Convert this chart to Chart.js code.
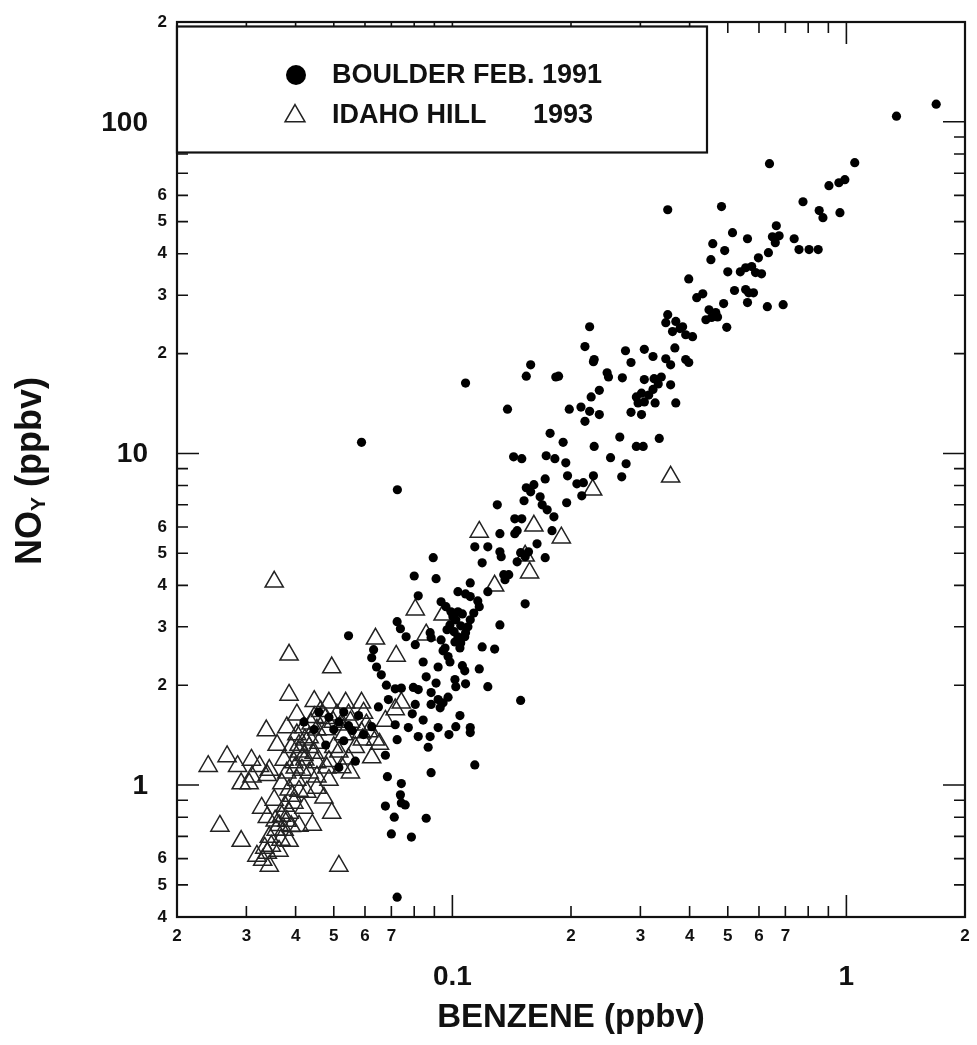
<!DOCTYPE html>
<html>
<head>
<meta charset="utf-8">
<script src="https://cdn.jsdelivr.net/npm/chart.js@4.4.1/dist/chart.umd.min.js"></script>
<style>
  html, body { margin: 0; padding: 0; background: #fff; }
</style>
</head>
<body>
<canvas id="grafica" width="977" height="1045"></canvas>
<script>
// Boulder, febrero 1991: benceno y NOy (ppbv)
var boulderX = [1.69, 1.34, 0.638, 1.05, 0.903, 0.957, 0.991, 0.482, 0.352, 0.776, 0.853, 0.872, 0.963, 0.664, 0.514, 0.561, 0.649, 0.675, 0.66, 0.737,
  0.458, 0.491, 0.453, 0.634, 0.598, 0.758, 0.804, 0.848, 0.398, 0.5, 0.538, 0.555, 0.575, 0.588, 0.609, 0.432, 0.417, 0.52, 0.555, 0.565,
  0.581, 0.561, 0.63, 0.691, 0.488, 0.448, 0.466, 0.455, 0.44, 0.471, 0.497, 0.352, 0.348, 0.369, 0.384, 0.362, 0.391, 0.407, 0.378, 0.223,
  0.367, 0.217, 0.229, 0.275, 0.284, 0.307, 0.323, 0.348, 0.358, 0.391, 0.398, 0.247, 0.249, 0.27, 0.186, 0.307, 0.325, 0.339, 0.333, 0.323,
  0.358, 0.293, 0.302, 0.315, 0.296, 0.307, 0.327, 0.369, 0.284, 0.302, 0.236, 0.225, 0.198, 0.212, 0.223, 0.236, 0.217, 0.266, 0.191, 0.229,
  0.293, 0.305, 0.335, 0.252, 0.276, 0.194, 0.196, 0.228, 0.269, 0.228, 0.158, 0.154, 0.183, 0.108, 0.138, 0.177, 0.143, 0.15, 0.173, 0.182,
  0.172, 0.154, 0.161, 0.158, 0.207, 0.215, 0.213, 0.13, 0.152, 0.167, 0.169, 0.174, 0.181, 0.195, 0.144, 0.15, 0.132, 0.144, 0.146, 0.179,
  0.114, 0.123, 0.132, 0.133, 0.164, 0.149, 0.153, 0.146, 0.156, 0.172, 0.119, 0.0894, 0.08, 0.0909, 0.135, 0.139, 0.136, 0.111, 0.0819, 0.1033,
  0.108, 0.111, 0.116, 0.117, 0.123, 0.0936, 0.0963, 0.153, 0.0992, 0.1033, 0.106, 0.102, 0.0986, 0.105, 0.101, 0.108, 0.0969, 0.111, 0.1033, 0.1075,
  0.1015, 0.105, 0.132, 0.0724, 0.0738, 0.0763, 0.0805, 0.0883, 0.0878, 0.119, 0.128, 0.0947, 0.0975, 0.0936, 0.0958, 0.092, 0.106, 0.1075, 0.117, 0.123,
  0.0858, 0.0909, 0.1015, 0.102, 0.108, 0.066, 0.068, 0.0716, 0.0742, 0.0796, 0.0805, 0.0883, 0.092, 0.0883, 0.0931, 0.0975, 0.0947, 0.149, 0.0716, 0.0773,
  0.0819, 0.0878, 0.092, 0.098, 0.111, 0.111, 0.0676, 0.114, 0.0684, 0.0742, 0.0883, 0.0738, 0.0742, 0.0759, 0.0676, 0.0712, 0.0858, 0.07, 0.0787, 0.0724,
  0.0545, 0.0631, 0.0624, 0.0642, 0.0477, 0.0515, 0.0567, 0.0624, 0.0458, 0.0486, 0.0515, 0.0545, 0.053, 0.0557, 0.05, 0.0446, 0.0595, 0.053, 0.0578, 0.042,
  0.0588, 0.0725, 0.1003, 0.1095, 0.1133, 0.1045, 0.0986, 0.0843, 0.0819, 0.0791, 0.0843, 0.1045, 0.102, 0.0868, 0.0724, 0.0649, 0.0688];
var boulderY = [113, 104, 74.8, 75.3, 64.2, 65.5, 66.9, 55.5, 54.3, 57.4, 54.0, 51.4, 53.2, 48.6, 46.3, 44.4, 45.0, 45.3, 43.2, 44.4,
  42.9, 40.9, 38.4, 40.3, 38.9, 41.2, 41.2, 41.2, 33.6, 35.3, 35.3, 36.3, 36.6, 35.1, 34.8, 30.3, 29.5, 31.0, 31.2, 30.5,
  30.5, 28.5, 27.7, 28.1, 28.3, 27.1, 26.6, 25.7, 25.3, 25.8, 24.0, 26.2, 24.8, 25.0, 24.1, 23.3, 22.8, 22.5, 23.8, 24.1,
  20.8, 21.0, 19.2, 20.4, 18.8, 20.6, 19.6, 19.3, 18.5, 19.2, 18.8, 17.5, 17.0, 16.9, 17.1, 16.7, 16.8, 17.0, 16.2, 15.6,
  16.1, 14.8, 15.2, 15.0, 14.2, 14.3, 14.2, 14.2, 13.3, 13.1, 15.5, 14.8, 13.6, 13.8, 13.4, 13.1, 12.5, 11.2, 10.8, 10.5,
  10.5, 10.5, 11.1, 9.71, 9.31, 9.37, 8.56, 8.56, 8.50, 18.9, 18.5, 17.1, 17.0, 16.3, 13.6, 11.5, 9.77, 9.64, 9.84, 9.64,
  8.38, 7.88, 8.05, 7.66, 8.10, 8.16, 7.45, 7.0, 7.2, 7.4, 7.0, 6.76, 6.44, 7.1, 6.35, 6.35, 5.73, 5.73, 5.85, 5.85,
  5.23, 5.23, 5.05, 4.88, 5.34, 5.02, 4.88, 4.71, 5.05, 4.85, 4.68, 4.85, 4.27, 4.19, 4.31, 4.31, 4.16, 4.07, 3.72, 3.83,
  3.77, 3.70, 3.59, 3.45, 3.83, 3.57, 3.45, 3.52, 3.33, 3.33, 3.28, 3.15, 3.04, 3.02, 2.90, 2.88, 2.94, 3.15, 2.80, 2.80,
  2.70, 2.68, 3.04, 3.11, 2.96, 2.80, 2.65, 2.78, 2.88, 2.61, 2.57, 2.54, 2.44, 2.74, 2.59, 2.27, 2.29, 2.21, 2.24, 1.98,
  2.12, 2.03, 2.08, 1.98, 2.02, 2.15, 2.0, 1.95, 1.96, 1.97, 1.75, 1.90, 1.81, 1.75, 1.71, 1.84, 1.77, 1.80, 1.52, 1.49,
  1.40, 1.40, 1.49, 1.42, 1.49, 1.44, 1.23, 1.15, 1.06, 1.01, 1.09, 0.934, 0.883, 0.871, 0.864, 0.80, 0.794, 0.712, 0.697, 0.459,
  2.82, 2.56, 2.42, 2.27, 1.32, 1.13, 1.18, 1.50, 1.66, 1.60, 1.55, 1.51, 1.66, 1.46, 1.47, 1.47, 1.42, 1.36, 1.62, 1.55,
  10.8, 7.77, 3.22, 3.00, 3.30, 2.59, 2.35, 2.35, 1.94, 1.64, 1.57, 1.62, 1.50, 1.30, 1.37, 1.72, 1.81];

// Idaho Hill 1993
var idahoX = [0.024, 0.0268, 0.0285, 0.0291, 0.0305, 0.0309, 0.0324, 0.0343, 0.0257, 0.0291, 0.0328, 0.0337, 0.0385, 0.0385, 0.0353, 0.0446, 0.0494, 0.0536, 0.0588, 0.0595,
  0.0638, 0.072, 0.0805, 0.0858, 0.0947, 0.0676, 0.0638, 0.0624, 0.0551, 0.0494, 0.0515, 0.0319, 0.033, 0.0343, 0.0441, 0.0486, 0.0524, 0.0588, 0.117, 0.128,
  0.161, 0.189, 0.153, 0.157, 0.227, 0.358, 0.0742, 0.0716, 0.0339, 0.0347, 0.0363, 0.0357, 0.0385, 0.0355, 0.0385, 0.0408, 0.0369, 0.0396, 0.0408, 0.0453,
  0.0369, 0.0339, 0.031, 0.038, 0.0396, 0.042, 0.0374, 0.0408, 0.0433, 0.039, 0.0359, 0.042, 0.0446, 0.0403, 0.038, 0.0463, 0.0486, 0.0509, 0.0545, 0.0458,
  0.05, 0.053, 0.0567, 0.0605, 0.048, 0.0433, 0.0453, 0.0472, 0.042,
  0.0334, 0.0343, 0.0367, 0.0374, 0.0363, 0.038, 0.039, 0.0376, 0.0392, 0.0403, 0.0385, 0.0415, 0.0399, 0.0422, 0.0408, 0.0433, 0.0446, 0.0403,
  0.0422, 0.0438, 0.0453, 0.0477, 0.0498, 0.0521, 0.0551, 0.0591, 0.0613, 0.0653, 0.0515, 0.0545, 0.048, 0.0453, 0.0427, 0.0486, 0.0353, 0.0339];
var idahoY = [1.14, 1.22, 1.14, 1.01, 1.01, 1.19, 1.14, 1.11, 0.753, 0.678, 0.853, 1.46, 1.87, 2.47, 4.10, 1.79, 2.26, 1.77, 1.77, 1.65,
  2.76, 2.45, 3.38, 2.84, 3.26, 1.56, 1.37, 1.21, 1.09, 0.824, 0.570, 0.611, 0.594, 0.570, 0.758, 1.18, 1.13, 1.44, 5.80, 3.99,
  6.05, 5.57, 4.91, 4.37, 7.77, 8.50, 1.77, 1.69, 0.624, 0.655, 0.633, 0.732, 0.678, 0.780, 0.824, 0.753, 0.806, 0.883, 0.960, 0.980,
  1.01, 1.07, 1.06, 1.09, 1.17, 1.23, 1.19, 1.32, 1.39, 1.30, 1.32, 1.49, 1.60, 1.63, 1.49, 1.67, 1.77, 1.63, 1.63, 1.34,
  1.30, 1.42, 1.30, 1.52, 1.47, 1.09, 1.17, 0.915, 0.853,
  0.646, 0.697, 0.683, 0.732, 0.757, 0.779, 0.751, 0.864, 0.927, 1.036, 0.967, 1.111, 1.127, 1.191, 1.26, 1.30, 1.25, 1.42,
  1.37, 1.53, 1.467, 1.59, 1.55, 1.52, 1.55, 1.37, 1.45, 1.33, 1.26, 1.20, 1.127, 1.06, 0.953, 1.036, 0.902, 0.80];

// Marcas de los ejes (escala logaritmica)
var xTicks = [0.03, 0.04, 0.05, 0.06, 0.07, 0.08, 0.09, 0.1, 0.2, 0.3, 0.4, 0.5, 0.6, 0.7, 0.8, 0.9, 1];
var xMayores = [0.1, 1];
var xEtiquetas = [0.02, 0.03, 0.04, 0.05, 0.06, 0.07, 0.2, 0.3, 0.4, 0.5, 0.6, 0.7, 2];
var xTextos = ['2', '3', '4', '5', '6', '7', '2', '3', '4', '5', '6', '7', '2'];
var xTextosMayores = ['0.1', '1'];

var yTicks = [0.5, 0.6, 0.7, 0.8, 0.9, 1, 2, 3, 4, 5, 6, 7, 8, 9, 10, 20, 30, 40, 50, 60, 70, 80, 90, 100];
var yMayores = [1, 10, 100];
var yEtiquetas = [0.4, 0.5, 0.6, 2, 3, 4, 5, 6, 20, 30, 40, 50, 60, 200];
var yTextos = ['4', '5', '6', '2', '3', '4', '5', '6', '2', '3', '4', '5', '6', '2'];
var yTextosMayores = ['1', '10', '100'];

var FUENTE = '"Liberation Sans", Arial, Helvetica, sans-serif';

// Une dos listas en puntos {x, y}
function juntar(xs, ys) {
  var puntos = [];
  for (var i = 0; i < xs.length; i++) {
    puntos.push({ x: xs[i], y: ys[i] });
  }
  return puntos;
}

function triangulo(ctx, x, y, r) {
  ctx.beginPath();
  for (var k = 0; k < 3; k++) {
    var a = k * 2 * Math.PI / 3;
    var px = x + Math.sin(a) * r;
    var py = y - Math.cos(a) * r;
    if (k === 0) ctx.moveTo(px, py); else ctx.lineTo(px, py);
  }
  ctx.closePath();
}

// Marco, marcas hacia dentro, etiquetas, leyenda y titulos
var ejesPlugin = {
  id: 'ejes',
  afterDatasetsDraw: function (chart) {
    var ctx = chart.ctx;
    var area = chart.chartArea;
    var sx = chart.scales.x;
    var sy = chart.scales.y;
    ctx.save();
    ctx.strokeStyle = '#111';
    ctx.lineWidth = 1.6;

    xTicks.forEach(function (v) {
      var px = sx.getPixelForValue(v);
      var largo = xMayores.indexOf(v) >= 0 ? 22 : 11;
      ctx.beginPath();
      ctx.moveTo(px, area.bottom);
      ctx.lineTo(px, area.bottom - largo);
      ctx.moveTo(px, area.top);
      ctx.lineTo(px, area.top + largo);
      ctx.stroke();
    });
    yTicks.forEach(function (v) {
      var py = sy.getPixelForValue(v);
      var largo = yMayores.indexOf(v) >= 0 ? 22 : 11;
      ctx.beginPath();
      ctx.moveTo(area.left, py);
      ctx.lineTo(area.left + largo, py);
      ctx.moveTo(area.right, py);
      ctx.lineTo(area.right - largo, py);
      ctx.stroke();
    });

    ctx.lineWidth = 2.2;
    ctx.strokeRect(area.left, area.top, area.right - area.left, area.bottom - area.top);

    // etiquetas del eje x
    ctx.fillStyle = '#111';
    ctx.textAlign = 'center';
    ctx.textBaseline = 'middle';
    ctx.font = 'bold 17px ' + FUENTE;
    xEtiquetas.forEach(function (v, i) {
      ctx.fillText(xTextos[i], sx.getPixelForValue(v), area.bottom + 19);
    });
    ctx.font = 'bold 28px ' + FUENTE;
    xMayores.forEach(function (v, i) {
      ctx.fillText(xTextosMayores[i], sx.getPixelForValue(v), area.bottom + 60);
    });

    // etiquetas del eje y
    ctx.textAlign = 'right';
    ctx.font = 'bold 17px ' + FUENTE;
    yEtiquetas.forEach(function (v, i) {
      ctx.fillText(yTextos[i], area.left - 10, sy.getPixelForValue(v));
    });
    ctx.font = 'bold 28px ' + FUENTE;
    yMayores.forEach(function (v, i) {
      ctx.fillText(yTextosMayores[i], area.left - 29, sy.getPixelForValue(v) + 1);
    });

    // leyenda con su recuadro
    var lx = area.left, ly = area.top + 4.5, lw = 530, lh = 126;
    ctx.fillStyle = '#fff';
    ctx.fillRect(lx, ly, lw, lh);
    ctx.lineWidth = 2.2;
    ctx.strokeRect(lx, ly, lw, lh);

    var ds = chart.data.datasets;
    ctx.fillStyle = ds[0].backgroundColor;
    ctx.beginPath();
    ctx.arc(296, 75, 10, 0, 2 * Math.PI);
    ctx.fill();
    ctx.strokeStyle = ds[1].borderColor;
    ctx.lineWidth = 1.5;
    triangulo(ctx, 295, 116, 11.5);
    ctx.stroke();

    ctx.fillStyle = '#111';
    ctx.textAlign = 'left';
    ctx.textBaseline = 'middle';
    ctx.font = 'bold 27px ' + FUENTE;
    ctx.fillText(ds[0].label, 332, 76);
    ctx.fillText('IDAHO HILL', 332, 116);
    ctx.fillText('1993', 533, 116);

    // titulos de los ejes
    ctx.textAlign = 'center';
    ctx.textBaseline = 'alphabetic';
    ctx.font = 'bold 33px ' + FUENTE;
    ctx.fillText('BENZENE (ppbv)', (area.left + area.right) / 2, 1027);

    ctx.translate(41, 471);
    ctx.rotate(-Math.PI / 2);
    ctx.textAlign = 'left';
    var fGrande = 'bold 36px ' + FUENTE;
    var fSub = 'bold 21px ' + FUENTE;
    ctx.font = fGrande;
    var w1 = ctx.measureText('NO').width;
    var w3 = ctx.measureText(' (ppbv)').width;
    ctx.font = fSub;
    var w2 = ctx.measureText('Y').width;
    var x0 = -(w1 + w2 + w3) / 2;
    ctx.font = fGrande;
    ctx.fillText('NO', x0, 0);
    ctx.font = fSub;
    ctx.fillText('Y', x0 + w1, 4);
    ctx.font = fGrande;
    ctx.fillText(' (ppbv)', x0 + w1 + w2, 0);

    ctx.restore();
  }
};

var ctx = document.getElementById('grafica').getContext('2d');
var grafica = new Chart(ctx, {
  type: 'scatter',
  data: {
    datasets: [{
      label: 'BOULDER FEB. 1991',
      data: juntar(boulderX, boulderY),
      backgroundColor: '#000',
      borderWidth: 0,
      pointRadius: 4.6
    }, {
      label: 'IDAHO HILL    1993',
      data: juntar(idahoX, idahoY),
      pointStyle: 'triangle',
      backgroundColor: 'rgba(0,0,0,0)',
      borderColor: '#222',
      borderWidth: 1.5,
      pointRadius: 10.5
    }]
  },
  options: {
    responsive: false,
    devicePixelRatio: 1,
    animation: false,
    events: [],
    layout: { padding: { left: 177, top: 22, right: 7, bottom: 128 } },
    scales: {
      x: { type: 'logarithmic', min: 0.02, max: 2, display: false },
      y: { type: 'logarithmic', min: 0.4, max: 200, display: false }
    },
    plugins: {
      legend: { display: false },
      tooltip: { enabled: false }
    }
  },
  plugins: [ejesPlugin]
});
</script>
</body>
</html>
